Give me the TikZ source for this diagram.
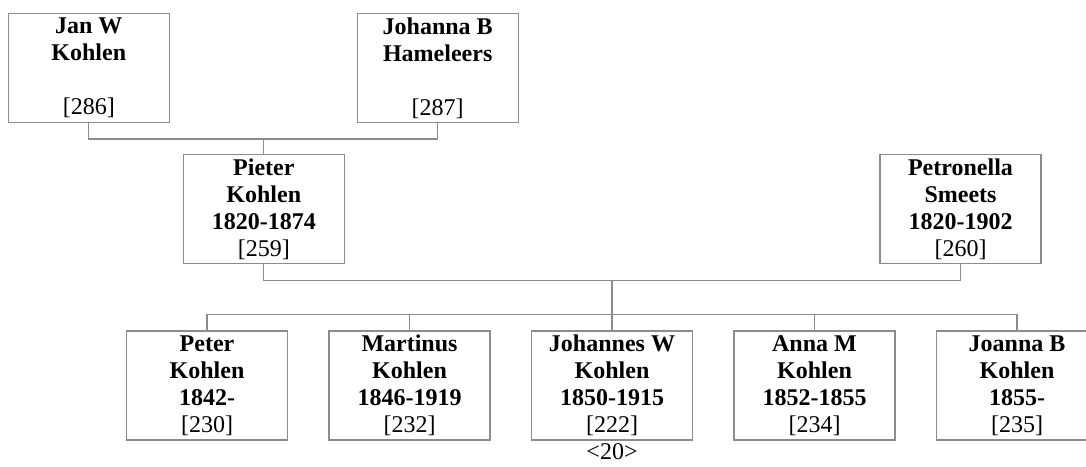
\documentclass[tikz,border=0pt]{standalone}
\usepackage{fontspec}
\setmainfont{Liberation Serif}
\definecolor{linegray}{RGB}{140,140,140}
\begin{document}
\begin{tikzpicture}[x=1pt,y=1pt,
  person/.style={draw=linegray, line width=1.3pt, fill=white, rectangle,
    minimum width=161pt, minimum height=109pt, inner sep=0pt,
    align=center, font=\fontsize{24}{27}\selectfont},
  link/.style={draw=linegray, line width=1.3pt}]
\clip (0,0) rectangle (1086,-466);
\fill[white] (0,0) rectangle (1086,-466);
% grandparents
\node[person] (jan) at (88.8,-67.8) {\textbf{Jan W}\\\textbf{Kohlen}\\\mbox{}\\{}[286]};
\node[person] (johanna) at (437.7,-67.8) {\textbf{Johanna B}\\\textbf{Hameleers}\\\mbox{}\\{}[287]};
% parents
\node[person] (pieter) at (263.8,-209) {\textbf{Pieter}\\\textbf{Kohlen}\\\textbf{1820-1874}\\{}[259]};
\node[person] (petronella) at (960.5,-209) {\textbf{Petronella}\\\textbf{Smeets}\\\textbf{1820-1902}\\{}[260]};
% children
\node[person] (c1) at (207,-385.35) {\textbf{Peter}\\\textbf{Kohlen}\\\textbf{1842-}\\{}[230]};
\node[person] (c2) at (409.5,-385.35) {\textbf{Martinus}\\\textbf{Kohlen}\\\textbf{1846-1919}\\{}[232]};
\node[person] (c3) at (612,-385.35) {\textbf{Johannes W}\\\textbf{Kohlen}\\\textbf{1850-1915}\\{}[222]};
\node[person] (c4) at (814.5,-385.35) {\textbf{Anna M}\\\textbf{Kohlen}\\\textbf{1852-1855}\\{}[234]};
\node[person] (c5) at (1017,-385.35) {\textbf{Joanna B}\\\textbf{Kohlen}\\\textbf{1855-}\\{}[235]};
% page number
\node[anchor=base, inner sep=0pt, font=\fontsize{24}{27}\selectfont] (page) at (612,-459) {<20>};
% connectors
\coordinate (gp) at (263.8,-138.3);
\coordinate (fam) at (612,-280);
\coordinate (sib) at (612,-315);
\draw[link] (jan.south) -- ++(0,-16) -| (johanna.south);
\draw[link] (gp) -- (pieter.north);
\draw[link] (pieter.south) -- ++(0,-16) -| (petronella.south);
\draw[link] (fam) -- (sib);
\draw[link] (c1.north) -- ++(0,15.7) -| (c5.north);
\draw[link] (c2.north) -- (c2.north |- sib);
\draw[link] (c3.north) -- (c3.north |- sib);
\draw[link] (c4.north) -- (c4.north |- sib);
\end{tikzpicture}
\end{document}
